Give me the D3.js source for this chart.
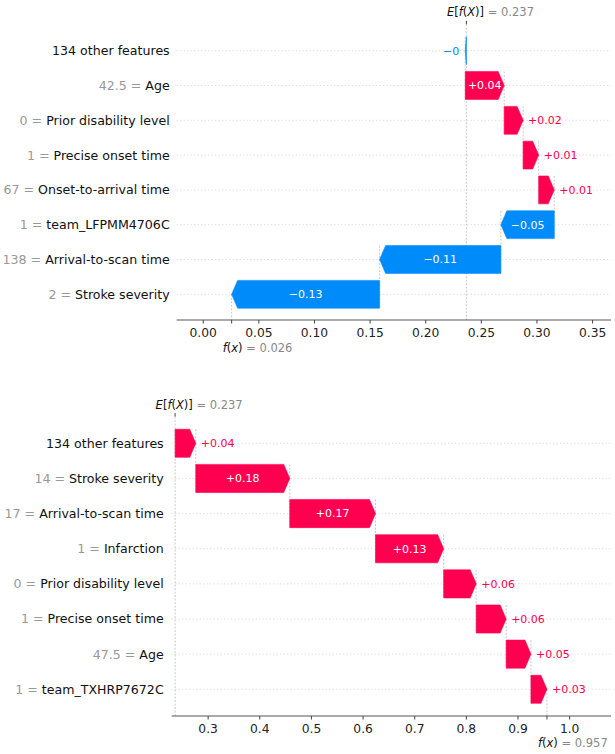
<!DOCTYPE html>
<html>
<head>
<meta charset="utf-8">
<script src="https://cdn.jsdelivr.net/npm/d3@7/dist/d3.min.js"></script>
<style>
  body { margin: 0; background: #fff; }
  svg { display: block; font-family: "DejaVu Sans", sans-serif; }
</style>
</head>
<body>
<div id="chart"></div>
<script>
// waterfall 1 (위)
const topFeatures = ["134 other features", "Age", "Prior disability level", "Precise onset time",
  "Onset-to-arrival time", "team_LFPMM4706C", "Arrival-to-scan time", "Stroke severity"];
const topFeatureValues = ["", "42.5", "0", "1", "67", "1", "138", "2"];
const topShap = [-0.001, 0.035, 0.017, 0.014, 0.014, -0.048, -0.109, -0.133];
const topBase = 0.237;
const topTicks = [0, 0.05, 0.1, 0.15, 0.2, 0.25, 0.3, 0.35];

// waterfall 2 (아래)
const botFeatures = ["134 other features", "Stroke severity", "Arrival-to-scan time", "Infarction",
  "Prior disability level", "Precise onset time", "Age", "team_TXHRP7672C"];
const botFeatureValues = ["", "14", "17", "1", "0", "1", "47.5", "1"];
const botShap = [0.040, 0.182, 0.166, 0.132, 0.063, 0.058, 0.048, 0.031];
const botBase = 0.237;
const botTicks = [0.3, 0.4, 0.5, 0.6, 0.7, 0.8, 0.9, 1.0];

const RED = "#ff0051", BLUE = "#008bfb";
const W = 615, H = 754;

const svg = d3.select("#chart").append("svg").attr("width", W).attr("height", H);

// 값 라벨 포맷 (끝의 0 제거)
function fmtShap(v) {
  let s = d3.format("+.2f")(v);
  s = s.replace(/0+$/, "").replace(/\.$/, "");
  return s;
}

function drawWaterfall(cfg) {
  const { features, featureValues, shap, base, ticks, tickFmt } = cfg;
  const fx = base + d3.sum(shap);
  const g = svg.append("g");

  const x = d3.scaleLinear().domain(cfg.xDomain).range(cfg.xRange);
  const y = d3.scalePoint().domain(d3.range(features.length)).range(cfg.yRange);
  const step = y.step();
  const bh = step * 0.8;
  const plotTop = cfg.yRange[0] - step * 0.76;

  // 가로 그리드
  g.selectAll(".grid").data(features).join("line")
    .attr("x1", cfg.xRange[0]).attr("x2", cfg.xRange[1])
    .attr("y1", (d, i) => y(i)).attr("y2", (d, i) => y(i))
    .attr("stroke", "#cccccc").attr("stroke-width", 0.8).attr("stroke-dasharray", "1,2.5");

  // 누적 위치 계산
  let cur = base;
  const bars = shap.map((v, i) => {
    const b = { i, v, start: cur, end: cur + v };
    cur += v;
    return b;
  });

  // 기준선 E[f(X)], f(x)
  g.append("line")
    .attr("x1", x(base)).attr("x2", x(base)).attr("y1", plotTop).attr("y2", cfg.axisY)
    .attr("stroke", "#bbbbbb").attr("stroke-width", 0.8).attr("stroke-dasharray", "2,1.5");
  g.append("line")
    .attr("x1", x(fx)).attr("x2", x(fx)).attr("y1", y(features.length - 1)).attr("y2", cfg.axisY)
    .attr("stroke", "#bbbbbb").attr("stroke-width", 0.8).attr("stroke-dasharray", "2,1.5");

  // 연결선
  g.selectAll(".conn").data(bars.slice(0, -1)).join("line")
    .attr("x1", d => x(d.end)).attr("x2", d => x(d.end))
    .attr("y1", d => y(d.i) - bh / 2).attr("y2", d => y(d.i + 1) + bh / 2)
    .attr("stroke", "#bbbbbb").attr("stroke-width", 0.8).attr("stroke-dasharray", "2,1.5");

  // 화살표 막대
  const headLen = 6;
  function arrowPath(d) {
    const x0 = x(d.start), x1 = x(d.end);
    const dir = x1 >= x0 ? 1 : -1;
    const w = Math.abs(x1 - x0);
    const hl = Math.min(headLen, w);
    const xr = x1 - dir * hl;
    const yc = y(d.i), t = yc - bh / 2, b = yc + bh / 2;
    return `M${x0},${t}L${xr},${t}L${x1},${yc}L${xr},${b}L${x0},${b}Z`;
  }
  g.selectAll(".bar").data(bars).join("path")
    .attr("d", arrowPath)
    .attr("fill", d => d.v >= 0 ? RED : BLUE)
    .attr("stroke", d => d.v >= 0 ? RED : BLUE)
    .attr("stroke-width", 0.6);

  // 값 라벨
  g.selectAll(".val").data(bars).join("text")
    .attr("y", d => y(d.i)).attr("dy", "0.35em")
    .attr("font-size", 11)
    .text(d => fmtShap(d.v).replace("-", "\u2212"))
    .each(function (d) {
      const tw = this.getComputedTextLength();
      const bw = Math.abs(x(d.end) - x(d.start));
      const el = d3.select(this);
      if (tw < bw) {
        el.attr("x", (x(d.start) + x(d.end)) / 2).attr("text-anchor", "middle").attr("fill", "#fff");
      } else if (d.v >= 0) {
        el.attr("x", x(d.end) + 5).attr("text-anchor", "start").attr("fill", RED);
      } else {
        el.attr("x", x(d.end) - 6).attr("text-anchor", "end").attr("fill", BLUE);
      }
    });

  // 행 라벨
  const lab = g.selectAll(".lab").data(features).join("text")
    .attr("x", cfg.labelX).attr("y", (d, i) => y(i)).attr("dy", "0.35em")
    .attr("text-anchor", "end").attr("font-size", 12.6);
  lab.each(function (d, i) {
    const el = d3.select(this);
    if (featureValues[i] !== "") {
      el.append("tspan").attr("fill", "#999999").text(featureValues[i] + " = ");
    }
    el.append("tspan").attr("fill", "#111111").text(d);
  });

  // x축
  const axis = d3.axisBottom(x).tickValues(ticks).tickFormat(d3.format(tickFmt))
    .tickSize(3.5).tickSizeOuter(0).tickPadding(5);
  const ax = g.append("g").attr("transform", `translate(0,${cfg.axisY})`).call(axis);
  ax.select(".domain").attr("d", `M${cfg.xRange[0]},0H${cfg.xRange[1]}`).attr("stroke", "#444").attr("stroke-width", 0.9);
  ax.selectAll(".tick line").attr("stroke", "#444");
  ax.selectAll(".tick text").attr("font-size", 12.3).attr("fill", "#222")
    .attr("font-family", "DejaVu Sans");

  // f(x) 눈금 + 라벨
  g.append("line").attr("x1", x(fx)).attr("x2", x(fx))
    .attr("y1", cfg.axisY).attr("y2", cfg.axisY + 3.5).attr("stroke", "#444");
  const fl = g.append("text").attr("x", x(fx) - 9).attr("y", cfg.fxLabelY).attr("font-size", 11.5);
  fl.append("tspan").attr("font-style", "italic").attr("fill", "#111").text("f");
  fl.append("tspan").attr("fill", "#111").text("(");
  fl.append("tspan").attr("font-style", "italic").attr("fill", "#111").text("x");
  fl.append("tspan").attr("fill", "#111").text(")");
  fl.append("tspan").attr("fill", "#888").text(" = " + d3.format(".3f")(fx));

  // E[f(X)] 눈금 + 라벨
  g.append("line").attr("x1", x(base)).attr("x2", x(base))
    .attr("y1", plotTop - 3.5).attr("y2", plotTop).attr("stroke", "#444");
  const el = g.append("text").attr("x", x(base) - 19.5).attr("y", plotTop - 8).attr("font-size", 11.5);
  el.append("tspan").attr("font-style", "italic").attr("fill", "#111").text("E");
  el.append("tspan").attr("fill", "#111").text("[");
  el.append("tspan").attr("font-style", "italic").attr("fill", "#111").text("f");
  el.append("tspan").attr("fill", "#111").text("(");
  el.append("tspan").attr("font-style", "italic").attr("fill", "#111").text("X");
  el.append("tspan").attr("fill", "#111").text(")]");
  el.append("tspan").attr("fill", "#888").text(" = " + d3.format(".3f")(base));
}

drawWaterfall({
  features: topFeatures, featureValues: topFeatureValues, shap: topShap, base: topBase,
  ticks: topTicks, tickFmt: ".2f",
  xDomain: [-0.0234, 0.367], xRange: [176.7, 611],
  yRange: [50.7, 294.3], axisY: 320, labelX: 169.7, fxLabelY: 352
});

drawWaterfall({
  features: botFeatures, featureValues: botFeatureValues, shap: botShap, base: botBase,
  ticks: botTicks, tickFmt: ".1f",
  xDomain: [0.2304, 1.081], xRange: [171.7, 611],
  yRange: [443.3, 689.3], axisY: 716, labelX: 163.7, fxLabelY: 747
});
</script>
</body>
</html>
